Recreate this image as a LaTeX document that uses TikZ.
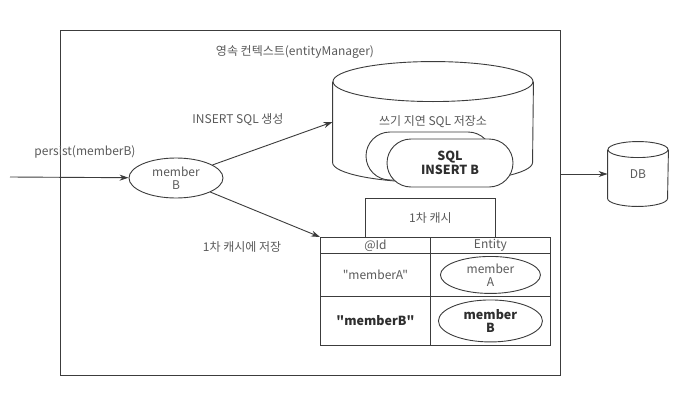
\documentclass[tikz,border=0pt]{standalone}
\usepackage{fontspec}
\newfontfamily\krfont{Noto Sans CJK KR}
\usetikzlibrary{arrows.meta,shapes.geometric,shapes.misc}
\definecolor{ink}{HTML}{3C3C3C}
\definecolor{txt}{HTML}{5A5A5A}
\definecolor{dark}{HTML}{2E2E2E}
\begin{document}
\begin{tikzpicture}[x=1pt, y=-1pt, line width=0.9pt,
  every node/.style={font=\krfont\fontsize{12}{13}\selectfont, text=txt, align=center, inner sep=0pt},
  arr/.style={draw=ink, -{Stealth[length=9pt,width=6pt]}},
  box/.style={draw=ink, rectangle, anchor=north west},
  oval/.style={draw=ink, ellipse},
  pill/.style={draw=ink, fill=white, rounded rectangle, minimum width=126pt, minimum height=48pt},
  strong/.style={text=dark, font=\krfont\fontsize{12.5}{13.5}\selectfont\bfseries}]
\useasboundingbox[fill=white] (0,0) rectangle (686,399);
% persistence context
\node[box, minimum width=500pt, minimum height=345pt] (ctx) at (60,30) {};
\node (title) at (295,52) {영속 컨텍스트(entityManager)};
% write-behind SQL store
\node[minimum width=200pt, minimum height=120pt] (store) at (433,122) {쓰기 지연 SQL 저장소};
\draw[ink] ([yshift=-20pt]store.north west) -- ([yshift=20pt]store.south west)
  arc[start angle=180, end angle=360, x radius=100pt, y radius=20pt]
  -- ([yshift=-20pt]store.north east);
\draw[ink] ([yshift=-20pt]store.north) ellipse [x radius=100pt, y radius=20pt];
\node[pill] (sqlback) at (429,156) {};
\node[pill, strong] (sql) at (450,163) {SQL\\INSERT B};
% member B
\coordinate (in) at (10,177);
\node[oval, minimum width=94pt, minimum height=40pt] (mb) at (176,178) {member\\B};
\node (persist) at (85,152) {persist(memberB)};
% first-level cache
\node[box, minimum width=130pt, minimum height=39pt] (tab) at (365,198) {1차 캐시};
\node[box, fill=white, minimum width=110pt, minimum height=16pt] (idh) at (320,237) {@Id};
\node[box, fill=white, minimum width=120pt, minimum height=16pt] (enth) at (430,237) {Entity};
\node[box, minimum width=110pt, minimum height=43pt] (ida) at (320,253) {"memberA"};
\node[box, minimum width=120pt, minimum height=43pt] (enta) at (430,253) {};
\node[box, minimum width=110pt, minimum height=49pt] (idb) at (320,296) {};
\node[strong] (idbtxt) at (idb) {"memberB"};
\node[box, minimum width=120pt, minimum height=49pt] (entb) at (430,296) {};
\node[oval, minimum width=100pt, minimum height=37pt] (ma) at (enta) {member\\A};
\node[oval, strong, minimum width=104pt, minimum height=42pt] (mbb) at (entb) {member\\B};
% DB
\node[minimum width=60pt, minimum height=64pt] (db) at (638,174) {DB};
\draw[ink] ([yshift=-8pt]db.north west) -- ([yshift=8pt]db.south west)
  arc[start angle=180, end angle=360, x radius=30pt, y radius=8pt]
  -- ([yshift=-8pt]db.north east);
\draw[ink] ([yshift=-8pt]db.north) ellipse [x radius=30pt, y radius=8pt];
% arrows
\draw[arr] (in) -- (mb);
\draw[arr] (mb) -- (store.west);
\draw[arr] (mb) -- (idh.north west);
\draw[arr] (ctx.east |- db.west) -- (db.west);
% labels
\node (lblsql) at (238,120) {INSERT SQL 생성};
\node (lblcache) at (242,247) {1차 캐시에 저장};
\end{tikzpicture}
\end{document}
